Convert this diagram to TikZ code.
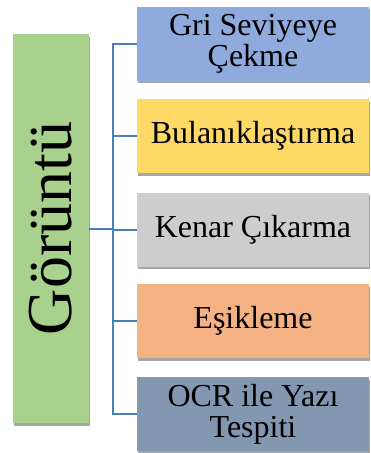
\documentclass[tikz,border=0pt]{standalone}
\usepackage{fontspec}
\setmainfont{Liberation Serif}
\usetikzlibrary{shadows}
\definecolor{cgreen}{HTML}{A9D18E}
\definecolor{cblue}{HTML}{8FAADC}
\definecolor{cyellow}{HTML}{FFD966}
\definecolor{cgray}{HTML}{CDCDCD}
\definecolor{corange}{HTML}{F4B183}
\definecolor{cslate}{HTML}{8497B0}
\definecolor{cline}{HTML}{4A7EBB}
\tikzset{
  sh/.style={drop shadow={shadow xshift=1pt, shadow yshift=-2.5pt, opacity=0.35, fill=black}},
  stepbox/.style={sh, inner sep=0pt, minimum width=232pt, minimum height=74pt, align=center,
    font=\fontsize{32}{31}\selectfont, text=black},
  link/.style={draw=cline, line width=2pt}
}
\begin{document}
\begin{tikzpicture}[x=1pt,y=-1pt]
\useasboundingbox (0,0) rectangle (371,453);
\coordinate (sp) at (113,229);
\node[sh, fill=cgreen, inner sep=0pt, minimum width=76pt, minimum height=389pt] (g) at (51,228.5) {};
\node[rotate=90, font=\fontsize{64}{64}\selectfont] (gt) at (g.center) {Görüntü};
\draw[link] (g.east) -- (g.east -| sp);
\node[stepbox, fill=cblue] (b1) at (253,43.5) {Gri Seviyeye\\Çekme};
\node[stepbox, fill=cyellow] (b2) at (253,136) {Bulanıklaştırma};
\node[stepbox, fill=cgray] (b3) at (253,229.5) {Kenar Çıkarma};
\node[stepbox, fill=corange] (b4) at (253,321) {Eşikleme};
\node[stepbox, fill=cslate] (b5) at (253,414) {OCR ile Yazı\\Tespiti};
\draw[link] (b1.west) -- (b1.west -| sp) -- (b5.west -| sp) -- (b5.west);
\draw[link] (b2.west) -- (b2.west -| sp);
\draw[link] (b3.west) -- (b3.west -| sp);
\draw[link] (b4.west) -- (b4.west -| sp);
\end{tikzpicture}
\end{document}
